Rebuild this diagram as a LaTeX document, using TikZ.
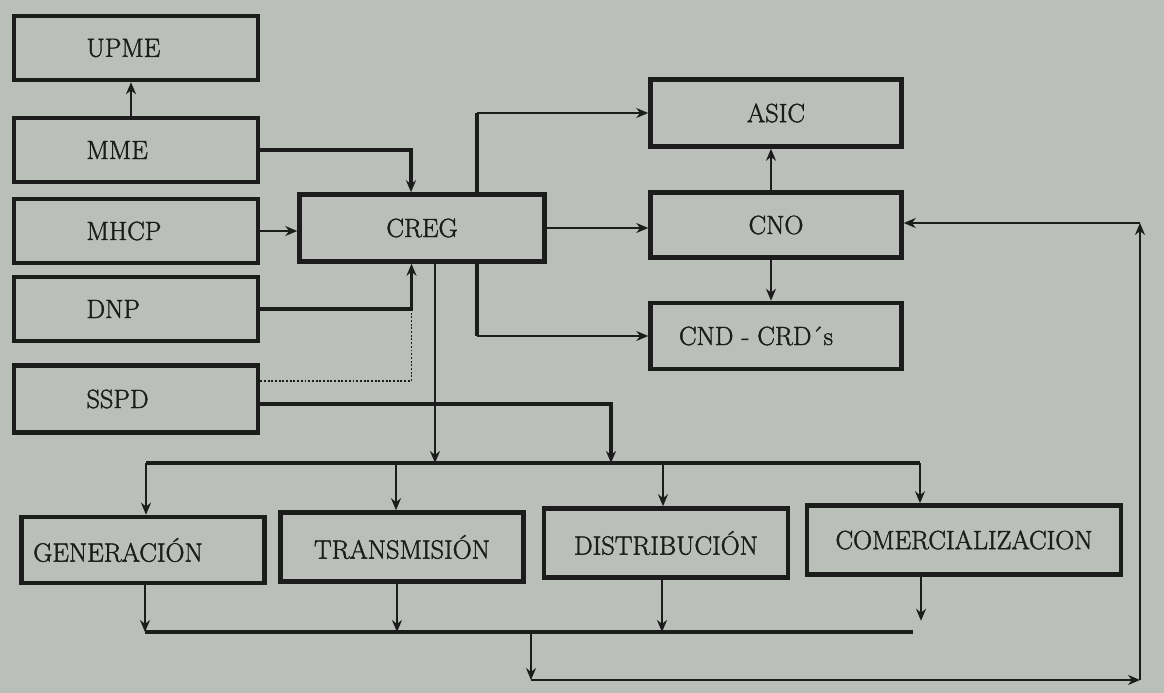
\documentclass[tikz,border=0pt]{standalone}
\usepackage{fontspec}
\newfontfamily\scanfont{Latin Modern Roman}[FakeBold=1.6]
\usetikzlibrary{arrows.meta}
\definecolor{scan}{RGB}{186,191,186}
\definecolor{ink}{RGB}{28,28,28}

\begin{document}
\begin{tikzpicture}[x=0.02cm,y=-0.02cm,
    box/.style={draw=ink,line width=2.6pt,fill=scan,text=ink,font=\scanfont\fontsize{15}{17}\selectfont,inner sep=0pt},
    lbox/.style={box,align=left,text width=1.98cm,inner xsep=1.45cm,minimum height=1.28cm},
    conn/.style={draw=ink,line width=1.1pt,-{Stealth[length=2.4mm,width=2mm]}},
    heavy/.style={draw=ink,line width=2.4pt},
    bus/.style={draw=ink,line width=2.4pt}]
    \fill[scan](0,0)rectangle(1164,693);
    \useasboundingbox(0,0)rectangle(1164,693);

    \node[lbox](upme)at(136,48){UPME};
    \node[lbox](mme)at(136,150){MME};
    \node[lbox](mhcp)at(136,231){MHCP};
    \node[lbox](dnp)at(136,309){DNP};
    \node[lbox,minimum height=1.34cm](sspd)at(136,399){SSPD};
    \node[box,minimum width=4.9cm,minimum height=1.34cm](creg)at(422,228){CREG};
    \node[box,minimum width=5.02cm,minimum height=1.34cm](asic)at(776,113){ASIC};
    \node[box,minimum width=5.02cm,minimum height=1.3cm](cno)at(776,225){CNO};
    \node[box,minimum width=5.02cm,minimum height=1.32cm](cnd)at(776,336){CND - CRD´s\hspace*{0.8cm}};
    \node[box,minimum width=4.86cm,minimum height=1.32cm](gen)at(143,550){GENERACIÓN\hspace*{1cm}};
    \node[box,minimum width=4.86cm,minimum height=1.38cm](trans)at(402,547){TRANSMISIÓN};
    \node[box,minimum width=4.88cm,minimum height=1.38cm](dist)at(666,543){DISTRIBUCIÓN};
    \node[box,minimum width=6.28cm,minimum height=1.38cm](com)at(964,540){COMERCIALIZACION};

    \coordinate(dj)at([xshift=-0.21cm]creg.south|-dnp.east);
    \coordinate(t1)at(146,463);
    \coordinate(t2)at(920,463);
    \coordinate(tap)at(611,463);
    \coordinate(b1)at(145,632);
    \coordinate(b2)at(913,632);
    \coordinate(r1)at(531,632);
    \coordinate(r2)at(531,680);
    \coordinate(r3)at(1140,680);
    \coordinate(r4)at(1140,223);

    \draw[conn]([xshift=-0.1cm]mme.north)--([xshift=-0.1cm]upme.south);
    \draw[conn,line width=2pt](mme.east)-|([xshift=-0.22cm]creg.north);
    \draw[conn](mhcp.east)--(mhcp.east-|creg.west);
    \draw[conn,line width=2pt](dnp.east)--(dj)--([xshift=-0.21cm]creg.south);
    \draw[ink,line width=1.1pt,densely dotted]([yshift=0.36cm]sspd.east)-|(dj);
    \draw[conn]([xshift=0.26cm]creg.south)--([xshift=0.26cm]creg.south|-t1);
    \draw[conn,line width=2pt]([yshift=-0.1cm]sspd.east)-|(tap);

    \draw[heavy]([xshift=1.1cm]creg.north)--([xshift=1.1cm]creg.north|-asic.west);
    \draw[conn]([xshift=1.1cm]creg.north|-asic.west)--(asic.west);
    \draw[heavy]([xshift=1.1cm]creg.south)--([xshift=1.1cm]creg.south|-cnd.west);
    \draw[conn]([xshift=1.1cm]creg.south|-cnd.west)--(cnd.west);
    \draw[conn](creg.east)--(creg.east-|cno.west);
    \draw[conn]([xshift=-0.1cm]cno.north)--([xshift=-0.1cm]asic.south);
    \draw[conn]([xshift=-0.1cm]cno.south)--([xshift=-0.1cm]cnd.north);

    \draw[bus](t1)--(t2);
    \draw[conn](t1)--(t1|-gen.north);
    \draw[conn]([xshift=-0.12cm]trans.north|-t1)--([xshift=-0.12cm]trans.north);
    \draw[conn]([xshift=-0.06cm]dist.north|-t1)--([xshift=-0.06cm]dist.north);
    \draw[conn](t2)--(t2|-com.north);

    \draw[bus](b1)--(b2);
    \draw[conn](gen.south-|b1)--(b1);
    \draw[conn]([xshift=-0.1cm]trans.south)--([xshift=-0.1cm]trans.south|-b1);
    \draw[conn]([xshift=-0.08cm]dist.south)--([xshift=-0.08cm]dist.south|-b1);
    \draw[conn]([xshift=-0.86cm]com.south)--++(0,44);

    \draw[conn](r1)--(r2);
    \draw[conn](r2)--(r3);
    \draw[conn](r3)--(r4);
    \draw[conn](r4)--(r4-|cno.east);
  \end{tikzpicture}
\end{document}
